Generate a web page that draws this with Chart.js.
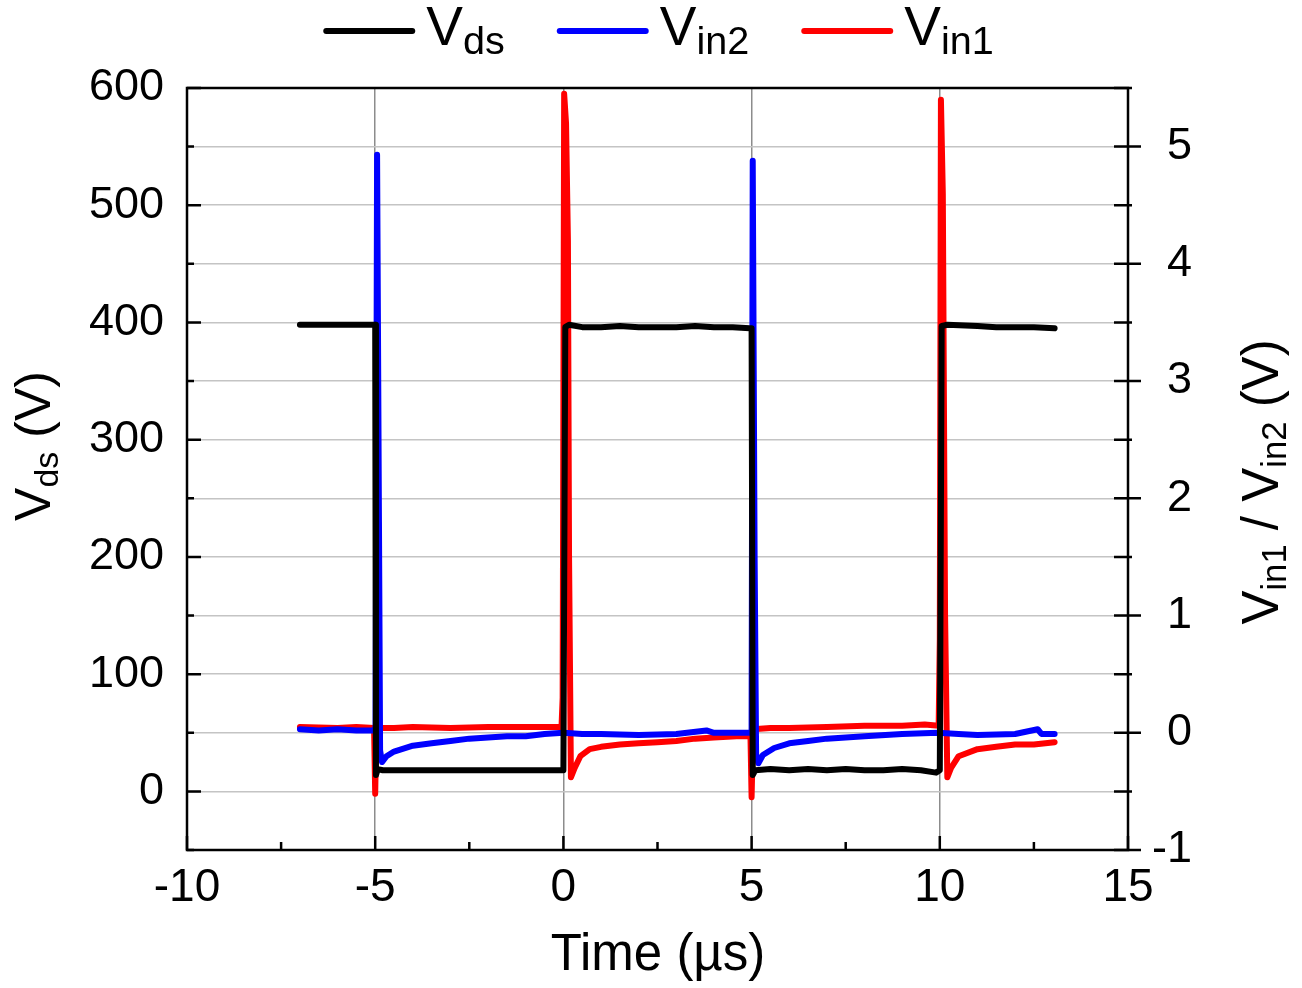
<!DOCTYPE html>
<html>
<head>
<meta charset="utf-8">
<script src="https://cdn.jsdelivr.net/npm/chart.js@4.4.1/dist/chart.umd.min.js"></script>
<style>
  html, body { margin: 0; padding: 0; background: #fff; }
  #wrap { width: 1302px; height: 988px; }
</style>
</head>
<body>
<div id="wrap"><canvas id="myChart" width="1302" height="988"></canvas></div>
<script>
const FONT = "'Liberation Sans', Arial, sans-serif";

// V_ds trace (left axis, V) vs time (µs)
const vdsTime = [-7.0, -6.5, -6.0, -5.5, -5.05, -5.0, -4.98, -4.93, -4.8, -4.0, -3.0, -2.0, -1.0, -0.05, 0.0, 0.05, 0.15, 0.5, 1.0, 1.5, 2.0, 2.5, 3.0, 3.5, 4.0, 4.5, 4.95, 5.0, 5.03, 5.1, 5.5, 6.0, 6.5, 7.0, 7.5, 8.0, 8.5, 9.0, 9.5, 9.9, 10.0, 10.05, 10.2, 11.0, 11.5, 12.0, 12.5, 13.05];
const vdsVolt = [398, 398, 398, 398, 398, 398, 14, 19, 18, 18, 18, 18, 18, 18, 18, 396, 398, 396, 396, 397, 396, 396, 396, 397, 396, 396, 395, 395, 14, 18, 19, 18, 19, 18, 19, 18, 18, 19, 18, 16, 18, 397, 398, 397, 396, 396, 396, 395];

// V_in2 trace (right axis, V)
const vin2Time = [-7.0, -6.5, -6.0, -5.5, -5.03, -4.99, -4.95, -4.9, -4.87, -4.82, -4.7, -4.5, -4.0, -3.5, -3.0, -2.5, -2.0, -1.5, -1.0, -0.5, 0.0, 0.5, 1.0, 2.0, 3.0, 3.8, 4.0, 4.5, 4.97, 5.0, 5.03, 5.08, 5.12, 5.18, 5.3, 5.6, 6.0, 6.5, 7.0, 8.0, 9.0, 9.95, 10.5, 11.0, 12.0, 12.6, 12.7, 13.05];
const vin2Volt = [0.03, 0.02, 0.03, 0.02, 0.02, 0.05, 4.93, 1.8, -0.15, -0.25, -0.2, -0.16, -0.11, -0.09, -0.07, -0.05, -0.04, -0.03, -0.03, -0.01, 0.0, -0.01, -0.01, -0.02, -0.01, 0.02, 0.0, 0.0, 0.0, 0.02, 4.88, 1.5, -0.18, -0.26, -0.19, -0.13, -0.09, -0.07, -0.05, -0.03, -0.01, 0.0, -0.01, -0.02, -0.01, 0.03, -0.01, -0.01];

// V_in1 trace (right axis, V)
const vin1Time = [-7.0, -6.0, -5.5, -5.03, -5.0, -4.97, -4.5, -4.0, -3.0, -2.0, -1.0, -0.3, -0.05, -0.02, 0.02, 0.07, 0.12, 0.15, 0.2, 0.3, 0.45, 0.7, 1.0, 1.5, 2.0, 2.5, 3.0, 3.5, 4.0, 4.6, 4.97, 5.0, 5.04, 5.5, 6.0, 7.0, 8.0, 9.0, 9.6, 9.97, 10.0, 10.03, 10.08, 10.14, 10.2, 10.3, 10.5, 11.0, 11.5, 12.0, 12.5, 13.05];
const vin1Volt = [0.05, 0.04, 0.05, 0.04, -0.52, 0.04, 0.04, 0.05, 0.04, 0.05, 0.05, 0.05, 0.05, 0.3, 5.45, 5.2, 4.2, 1.5, -0.38, -0.3, -0.2, -0.14, -0.12, -0.1, -0.09, -0.08, -0.07, -0.05, -0.04, -0.03, -0.03, -0.55, 0.03, 0.04, 0.04, 0.05, 0.06, 0.06, 0.07, 0.06, 0.8, 5.4, 4.6, 1.0, -0.38, -0.3, -0.2, -0.14, -0.12, -0.1, -0.1, -0.08];

const seriesLabels = ["V_{ds}", "V_{in2}", "V_{in1}"];
const seriesColors = ["#000000", "#0000ff", "#ff0000"];

const xTitle = "Time (µs)";
const yLeftTitle = "V_{ds} (V)";
const yRightTitle = "V_{in1} / V_{in2} (V)";

const SUB = 0.68;

const toPoints = (xs, ys) => xs.map((x, i) => ({ x: x, y: ys[i] }));

// split "V_{ds} (V)" into normal / subscript parts
function parseRich(str) {
  const parts = [];
  const re = /_\{([^}]*)\}/g;
  let last = 0, m;
  while ((m = re.exec(str)) !== null) {
    if (m.index > last) parts.push({ t: str.slice(last, m.index), sub: false });
    parts.push({ t: m[1], sub: true });
    last = re.lastIndex;
  }
  if (last < str.length) parts.push({ t: str.slice(last), sub: false });
  return parts;
}

function richWidth(ctx, parts, size, sub) {
  let w = 0;
  parts.forEach((p) => {
    ctx.font = (p.sub ? size * sub : size) + "px " + FONT;
    w += ctx.measureText(p.t).width;
  });
  return w;
}

function drawRich(ctx, str, size, x, y, align, sub) {
  sub = sub || SUB;
  const parts = parseRich(str);
  const w = richWidth(ctx, parts, size, sub);
  let cx = align === "center" ? x - w / 2 : x;
  ctx.textAlign = "left";
  ctx.textBaseline = "alphabetic";
  parts.forEach((p) => {
    ctx.font = (p.sub ? size * sub : size) + "px " + FONT;
    ctx.fillText(p.t, cx, y + (p.sub ? size * 0.16 : 0));
    cx += ctx.measureText(p.t).width;
  });
  return w;
}

const frameAndTicks = {
  id: "frameAndTicks",
  afterDatasetsDraw(chart) {
    const { ctx, chartArea: a, scales } = chart;
    ctx.save();
    ctx.strokeStyle = "#000";
    ctx.lineWidth = 2.5;
    ctx.beginPath();
    // bottom axis, major + minor halfway
    const xt = scales.x.ticks;
    xt.forEach((t, i) => {
      const px = scales.x.getPixelForValue(t.value);
      ctx.moveTo(px, a.bottom); ctx.lineTo(px, a.bottom - 14);
      if (i < xt.length - 1) {
        const mx = scales.x.getPixelForValue((t.value + xt[i + 1].value) / 2);
        ctx.moveTo(mx, a.bottom); ctx.lineTo(mx, a.bottom - 8);
      }
    });
    scales.y.ticks.forEach((t) => {
      const py = scales.y.getPixelForValue(t.value);
      const major = t.value % 100 === 0;
      ctx.moveTo(a.left, py); ctx.lineTo(a.left + (major ? 14 : 7), py);
    });
    scales.y2.ticks.forEach((t) => {
      const py = scales.y2.getPixelForValue(t.value);
      const major = Number.isInteger(t.value);
      ctx.moveTo(a.right - 14, py); ctx.lineTo(a.right + (major ? 13 : 4), py);
    });
    ctx.stroke();
    ctx.strokeRect(a.left, a.top, a.right - a.left, a.bottom - a.top);
    ctx.restore();
  },
  afterDraw(chart) {
    const { ctx } = chart;
    ctx.save();
    ctx.fillStyle = "#000";
    // axis titles
    drawRich(ctx, xTitle, 51, 658, 970, "center");
    ctx.save();
    ctx.translate(50, 446);
    ctx.rotate(-Math.PI / 2);
    drawRich(ctx, yLeftTitle, 50, 0, 0, "center");
    ctx.restore();
    ctx.save();
    ctx.translate(1278, 482);
    ctx.rotate(-Math.PI / 2);
    drawRich(ctx, yRightTitle, 51, 0, 0, "center");
    ctx.restore();

    // legend across the top
    const size = 55, sub = 0.72, lineLen = 86, gapLine = 14, gapItem = 55;
    const items = chart.data.datasets.map((ds) => ({
      label: ds.label,
      color: ds.borderColor,
      w: richWidth(ctx, parseRich(ds.label), size, sub),
    }));
    let total = 0;
    items.forEach((it, i) => { total += lineLen + gapLine + it.w + (i ? gapItem : 0); });
    let x = 660 - total / 2;
    items.forEach((it) => {
      ctx.strokeStyle = it.color;
      ctx.lineWidth = 6;
      ctx.lineCap = "round";
      ctx.beginPath();
      ctx.moveTo(x, 31); ctx.lineTo(x + lineLen, 31);
      ctx.stroke();
      x += lineLen + gapLine;
      ctx.fillStyle = "#000";
      drawRich(ctx, it.label, size, x, 45, "left", sub);
      x += it.w + gapItem;
    });
    ctx.restore();
  },
};

const data = {
  datasets: [
    {
      label: seriesLabels[0],
      data: toPoints(vdsTime, vdsVolt),
      borderColor: seriesColors[0],
      yAxisID: "y",
    },
    {
      label: seriesLabels[1],
      data: toPoints(vin2Time, vin2Volt),
      borderColor: seriesColors[1],
      yAxisID: "y2",
    },
    {
      label: seriesLabels[2],
      data: toPoints(vin1Time, vin1Volt),
      borderColor: seriesColors[2],
      yAxisID: "y2",
    },
  ],
};

const config = {
  type: "line",
  data,
  options: {
    responsive: false,
    animation: false,
    devicePixelRatio: 1,
    layout: { padding: { top: 88, right: 110, left: 0, bottom: 0 } },
    elements: {
      point: { radius: 0 },
      line: { borderWidth: 6, tension: 0, borderCapStyle: "round", borderJoinStyle: "round" },
    },
    plugins: {
      legend: { display: false },
      tooltip: { enabled: false },
    },
    scales: {
      x: {
        type: "linear",
        min: -10,
        max: 15,
        ticks: { stepSize: 5, color: "#000", padding: 11, font: { family: FONT, size: 46 } },
        grid: { color: "#8c8c8c", lineWidth: 1.5, drawTicks: false },
        border: { display: false },
        afterFit: (s) => { s.height = 138; },
      },
      y: {
        position: "left",
        min: -50,
        max: 600,
        ticks: {
          stepSize: 50,
          color: "#000",
          padding: 23,
          font: { family: FONT, size: 45 },
          callback: (v) => (v % 100 === 0 ? v : ""),
        },
        grid: { color: "#c4c4c4", lineWidth: 1.5, drawTicks: false },
        border: { display: false },
        afterFit: (s) => { s.width = 187; },
      },
      y2: {
        position: "right",
        min: -1,
        max: 5.5,
        ticks: {
          stepSize: 0.5,
          color: "#000",
          padding: 26,
          crossAlign: "far",
          font: { family: FONT, size: 45 },
          callback: (v) => (Number.isInteger(v) ? v : ""),
        },
        grid: { display: false, drawTicks: false },
        border: { display: false },
        afterFit: (s) => { s.width = 64; },
      },
    },
  },
  plugins: [frameAndTicks],
};

const myChart = new Chart(document.getElementById("myChart"), config);
</script>
</body>
</html>
